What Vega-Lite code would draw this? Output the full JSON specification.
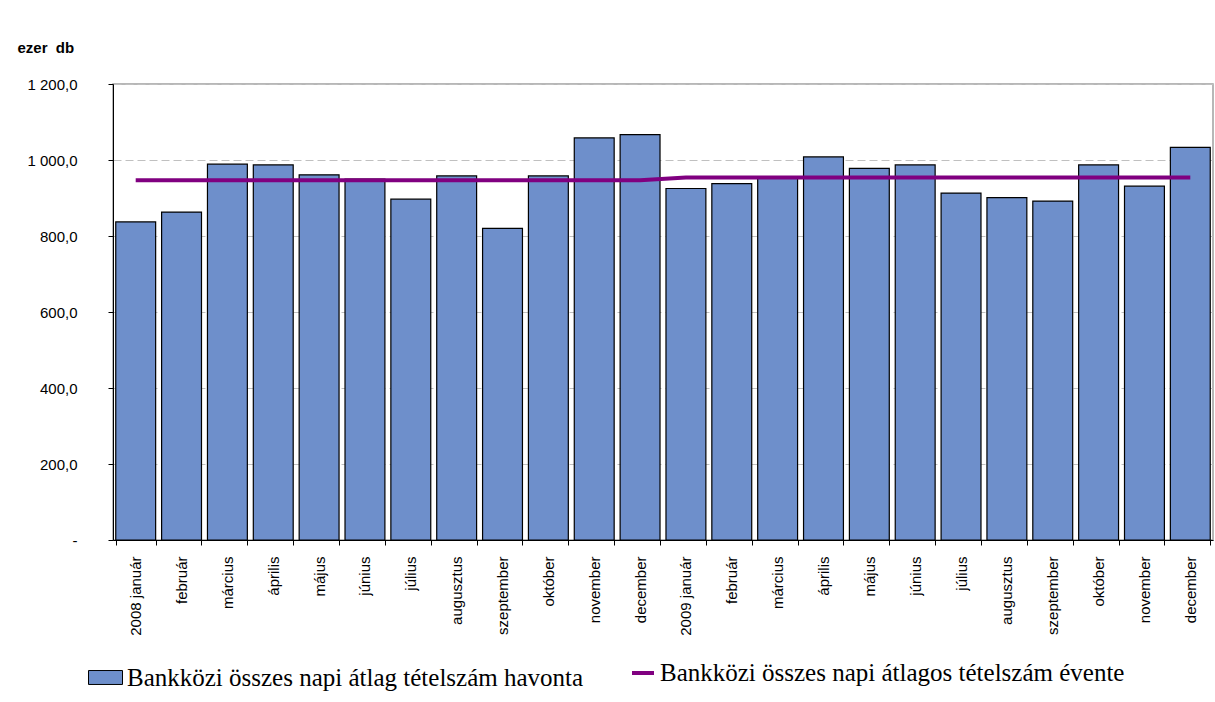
{
  "$schema": "https://vega.github.io/schema/vega-lite/v6.json",
  "width": 1100,
  "height": 456,
  "autosize": {"type": "none"},
  "padding": {"left": 113, "top": 84, "right": 2, "bottom": 162},
  "background": "white",
  "data": {
    "values": [
      {"honap": "2008 január", "havi": 837, "eves": 947},
      {"honap": "2008 február", "havi": 863, "eves": 947},
      {"honap": "2008 március", "havi": 989, "eves": 947},
      {"honap": "2008 április", "havi": 987, "eves": 947},
      {"honap": "2008 május", "havi": 961, "eves": 947},
      {"honap": "2008 június", "havi": 950, "eves": 947},
      {"honap": "2008 július", "havi": 897, "eves": 947},
      {"honap": "2008 augusztus", "havi": 958, "eves": 947},
      {"honap": "2008 szeptember", "havi": 820, "eves": 947},
      {"honap": "2008 október", "havi": 958, "eves": 947},
      {"honap": "2008 november", "havi": 1058, "eves": 947},
      {"honap": "2008 december", "havi": 1067, "eves": 947},
      {"honap": "2009 január", "havi": 925, "eves": 954},
      {"honap": "2009 február", "havi": 938, "eves": 954},
      {"honap": "2009 március", "havi": 953, "eves": 954},
      {"honap": "2009 április", "havi": 1008, "eves": 954},
      {"honap": "2009 május", "havi": 978, "eves": 954},
      {"honap": "2009 június", "havi": 987, "eves": 954},
      {"honap": "2009 július", "havi": 913, "eves": 954},
      {"honap": "2009 augusztus", "havi": 901, "eves": 954},
      {"honap": "2009 szeptember", "havi": 892, "eves": 954},
      {"honap": "2009 október", "havi": 987, "eves": 954},
      {"honap": "2009 november", "havi": 931, "eves": 954},
      {"honap": "2009 december", "havi": 1033, "eves": 954}
    ]
  },
  "encoding": {
    "x": {
      "field": "honap",
      "type": "nominal",
      "sort": null,
      "title": null,
      "scale": {"paddingInner": 0.13, "paddingOuter": 0.06}
    }
  },
  "layer": [
    {
      "mark": {"type": "bar", "stroke": "black", "strokeWidth": 1.2},
      "encoding": {
        "y": {
          "field": "havi",
          "type": "quantitative",
          "title": "ezer\u00a0 db",
          "scale": {"domain": [0, 1200]},
          "axis": {"values": [0, 200, 400, 600, 800, 1000, 1200]}
        },
        "fill": {
          "datum": "Bankközi összes napi átlag tételszám havonta",
          "type": "nominal",
          "scale": {"range": ["#6e8fcb"]},
          "legend": {
            "orient": "none",
            "legendX": -25,
            "legendY": 576,
            "title": null,
            "padding": 0,
            "symbolType": "M-1,-0.41H1V0.41H-1Z",
            "symbolSize": 1156,
            "symbolStrokeColor": "black",
            "symbolStrokeWidth": 1,
            "symbolOpacity": 1,
            "labelFont": "Liberation Serif",
            "labelFontSize": 25,
            "labelColor": "black",
            "labelOffset": 4,
            "labelLimit": 0
          }
        }
      }
    },
    {
      "mark": {"type": "line", "strokeWidth": 4},
      "encoding": {
        "y": {"field": "eves", "type": "quantitative", "title": "ezer\u00a0 db", "axis": {"values": [0, 200, 400, 600, 800, 1000, 1200]}},
        "stroke": {
          "datum": "Bankközi összes napi átlagos tételszám évente",
          "type": "nominal",
          "scale": {"range": ["#800080"]},
          "legend": {
            "orient": "none",
            "legendX": 517,
            "legendY": 576,
            "title": null,
            "padding": 0,
            "symbolType": "stroke",
            "symbolSize": 484,
            "symbolStrokeWidth": 4,
            "labelFont": "Liberation Serif",
            "labelFontSize": 25,
            "labelColor": "black",
            "labelOffset": 4,
            "labelLimit": 0
          }
        }
      }
    }
  ],
  "config": {
    "view": {"stroke": "#a0a0a0", "strokeWidth": 1.5},
    "axisY": {
      "labelExpr": "datum.value == 0 ? '-\u00a0\u00a0' : replace(replace(format(datum.value, ',.1f'), ',', ' '), '.', ',')",
      "labelFont": "Liberation Sans",
      "labelFontSize": 15,
      "labelColor": "black",
      "tickSize": 5,
      "tickColor": "black",
      "domainColor": "black",
      "labelPadding": 31,
      "gridColor": "#c0c0c0",
      "gridDash": [8, 4],
      "titleAngle": 0,
      "titleX": -96,
      "titleY": -32,
      "titleAlign": "left",
      "titleBaseline": "alphabetic",
      "titleFont": "Liberation Sans",
      "titleFontSize": 15,
      "titleFontWeight": "bold",
      "titleColor": "black"
    },
    "axisX": {
      "labelAngle": -90,
      "labelFont": "Liberation Sans",
      "labelFontSize": 15,
      "labelColor": "black",
      "tickBand": "extent",
      "tickSize": 5,
      "tickColor": "black",
      "domainColor": "black",
      "labelPadding": 11,
      "grid": false,
      "labelExpr": "datum.label == '2008 január' || datum.label == '2009 január' ? datum.label : substring(datum.label, 5)"
    }
  }
}
